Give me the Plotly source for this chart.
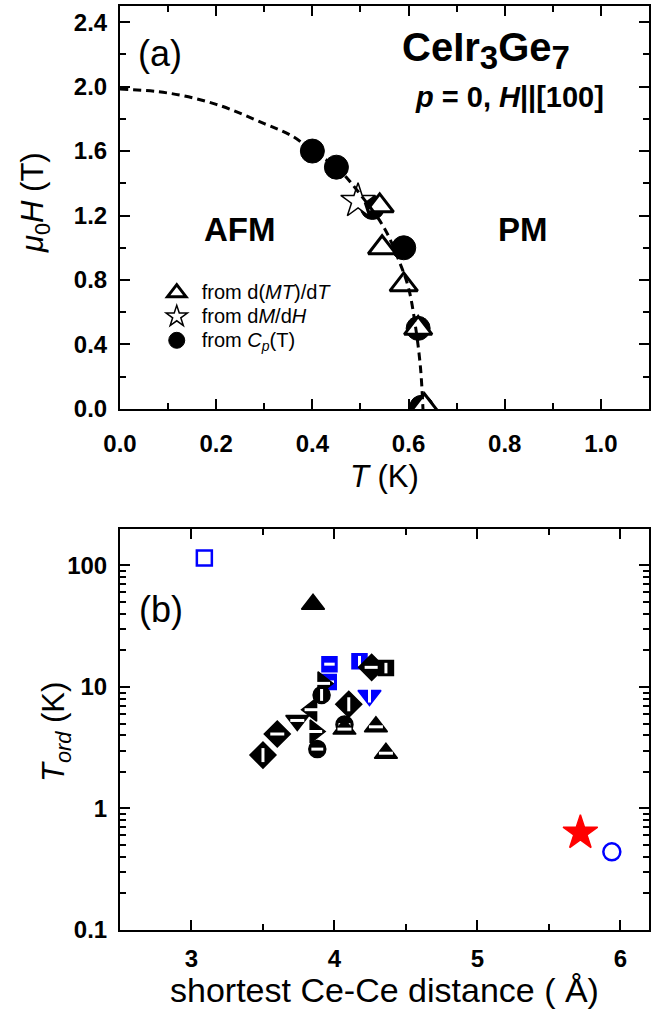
import plotly.graph_objects as go
from plotly.subplots import make_subplots

FONT = "Liberation Sans, Arial, sans-serif"

# ---------------- Panel (a) data: CeIr3Ge7 H-T phase diagram ----------------
boundary_T = [0.0, 0.1, 0.2, 0.3, 0.36, 0.40, 0.45, 0.50, 0.55, 0.58, 0.60, 0.615, 0.625, 0.63]
boundary_H = [1.985, 1.96, 1.89, 1.77, 1.69, 1.60, 1.50, 1.33, 1.12, 0.92, 0.75, 0.50, 0.25, 0.0]

dMT_T = [0.54, 0.545, 0.59, 0.62, 0.633]
dMT_H = [1.26, 1.00, 0.77, 0.50, 0.02]

dMdH_T = [0.495]
dMdH_H = [1.29]

cp_T = [0.40, 0.45, 0.525, 0.59, 0.62, 0.627]
cp_H = [1.60, 1.50, 1.25, 1.00, 0.50, 0.01]

# ---------------- Panel (b) data: T_ord vs shortest Ce-Ce distance ----------------
ce_dist = [3.09, 3.85, 3.965, 3.96, 4.175, 4.26, 4.36, 3.92, 3.91, 4.245, 4.10, 3.84,
           3.74, 3.865, 4.07, 4.07, 4.29, 4.36, 3.88, 3.60, 3.50, 5.72, 5.94]
ce_tord = [115, 48, 15.4, 11.0, 16.3, 14.5, 14.3, 10.7, 8.6, 8.5, 7.2, 6.5,
           5.3, 4.3, 4.9, 4.5, 4.7, 2.85, 3.08, 4.1, 2.75, 0.63, 0.44]

# styles for panel (b) markers (symbol, colour, fill type)
b_symbols = ["square", "triangle-up", "square", "square", "square", "diamond", "square",
             "triangle-right", "circle", "triangle-down", "diamond", "triangle-left",
             "triangle-down", "triangle-right", "circle", "triangle-up", "triangle-up",
             "triangle-up", "circle", "diamond", "diamond", "star", "circle"]
b_colors = ["blue", "black", "blue", "blue", "blue", "black", "black",
            "black", "black", "blue", "black", "black",
            "black", "black", "black", "black", "black",
            "black", "black", "black", "black", "red", "blue"]
b_fill = ["open", "filled", "half-h", "half-h", "half-v", "half-h", "half-v",
          "half-h", "half-v", "half-v", "half-v", "half-h",
          "half-h", "half-h", "half-h", "half-h", "half-h",
          "half-h", "half-h", "half-h", "half-v", "filled", "open"]
b_sizes = {"square": 15, "triangle-up": 20, "triangle-down": 20, "triangle-left": 20,
           "triangle-right": 20, "diamond": 20, "circle": 17, "star": 26}
COLMAP = {"blue": "#0000FF", "black": "#000000", "red": "#FF0000"}

fig = make_subplots(rows=2, cols=1)


def legend_text(s):
    return "<span style='font-size:20px'>" + s + "</span>"


# Panel (a) traces
fig.add_trace(go.Scatter(x=cp_T, y=cp_H, mode="markers",
                         marker=dict(symbol="circle", size=24, color="black",
                                     line=dict(color="black", width=1)),
                         name=legend_text("from <i>C</i><sub><i>p</i></sub>(T)"),
                         legendrank=3), row=1, col=1)
fig.add_trace(go.Scatter(x=dMT_T, y=dMT_H, mode="markers",
                         marker=dict(symbol="triangle-up", size=24, color="white",
                                     line=dict(color="black", width=3)),
                         name=legend_text("from d(<i>MT</i>)/d<i>T</i>"), legendrank=1), row=1, col=1)
fig.add_trace(go.Scatter(x=dMdH_T, y=dMdH_H, mode="markers",
                         marker=dict(symbol="star", size=26, color="white",
                                     line=dict(color="black", width=1.5)),
                         name=legend_text("from d<i>M</i>/d<i>H</i>"), legendrank=2), row=1, col=1)
fig.add_trace(go.Scatter(x=boundary_T, y=boundary_H, mode="lines", line_shape="spline",
                         line=dict(color="black", width=3, dash="8px,5px"),
                         showlegend=False, hoverinfo="skip"), row=1, col=1)

# Panel (b) traces
for xv, yv, sym, col, fill in zip(ce_dist, ce_tord, b_symbols, b_colors, b_fill):
    c = COLMAP[col]
    sz = b_sizes[sym]
    if fill == "open":
        fig.add_trace(go.Scatter(x=[xv], y=[yv], mode="markers", showlegend=False,
                                 marker=dict(symbol=sym + "-open", size=sz, color=c,
                                             line=dict(color=c, width=2.5))), row=2, col=1)
    else:
        fig.add_trace(go.Scatter(x=[xv], y=[yv], mode="markers", showlegend=False,
                                 marker=dict(symbol=sym, size=sz, color=c,
                                             line=dict(color=c, width=1.5))), row=2, col=1)
        if fill.startswith("half"):
            stripe = "line-ew" if fill == "half-h" else "line-ns"
            fig.add_trace(go.Scatter(x=[xv], y=[yv], mode="markers", showlegend=False,
                                     hoverinfo="skip",
                                     marker=dict(symbol=stripe, size=sz * 0.5,
                                                 line=dict(color="white", width=3))),
                          row=2, col=1)

tickfont = dict(family=FONT, size=24, color="black", weight="bold")
axis_common = dict(showline=True, linewidth=2, linecolor="black", mirror="allticks",
                   ticks="inside", ticklen=10, tickwidth=2, tickcolor="black",
                   showgrid=False, zeroline=False, tickfont=tickfont, automargin=False)
minor_common = dict(ticks="inside", ticklen=6, tickwidth=2, tickcolor="black")

fig.update_layout(
    width=660, height=1017,
    margin=dict(l=120, r=11, t=6, b=87),
    plot_bgcolor="white", paper_bgcolor="white",
    font=dict(family=FONT, color="black"),
    showlegend=True,
    legend=dict(x=0.06, y=0.708, xanchor="left", yanchor="top", itemwidth=40,
                bgcolor="rgba(0,0,0,0)", font=dict(family=FONT, size=16, color="black"),
                tracegroupgap=0, itemsizing="trace"),
    xaxis=dict(domain=[0, 1], range=[0, 1.1], tick0=0, dtick=0.2, tickformat=".1f",
               minor=dict(dtick=0.1, **minor_common),
               ticklabelstandoff=12, **axis_common),
    yaxis=dict(domain=[0.5639, 1.0], range=[0, 2.5], tick0=0, dtick=0.4, tickformat=".1f",
               minor=dict(dtick=0.2, **minor_common),
               ticklabelstandoff=6, **axis_common),
    xaxis2=dict(domain=[0, 1], range=[2.5, 6.2], tick0=3, dtick=1,
                minor=dict(dtick=0.5, **minor_common),
                ticklabelstandoff=6, **axis_common),
    yaxis2=dict(domain=[0, 0.434], type="log", range=[-1, 2.3],
                tickvals=[0.1, 1, 10, 100], ticktext=["0.1", "1", "10", "100"],
                minor=dict(tickvals=[m * 10 ** e for e in (-1, 0, 1, 2) for m in range(2, 10)],
                           **minor_common),
                ticklabelstandoff=6, **axis_common),
)

ann = [
    # axis titles
    dict(text="<i>T</i> (K)", x=0.5, y=0.4903, size=31),
    dict(text="<i>μ</i><sub>0</sub><i>H</i> (T)", x=-0.1607, y=0.7879, size=31, textangle=-90),
    dict(text="shortest Ce-Ce distance ( Å)", x=0.5, y=-0.0649, size=34),
    dict(text="<i>T</i><sub><i>ord</i></sub> (K)", x=-0.121, y=0.2143, size=31, textangle=-90),
    # panel labels
    dict(text="(a)", x=0.0756, y=0.9481, size=36),
    dict(text="(b)", x=0.0775, y=0.3474, size=36),
    dict(text="<b>CeIr<sub><span style='font-size:33px'>3</span></sub>Ge"
              "<sub><span style='font-size:33px'>7</span></sub></b>",
         x=0.6919, y=0.9515, size=40),
    dict(text="<b><i>p</i> = 0, <i>H</i>||[100]</b>", x=0.7372, y=0.9015, size=29),
    dict(text="<b>AFM</b>", x=0.2268, y=0.7576, size=33),
    dict(text="<b>PM</b>", x=0.7618, y=0.7576, size=33),
]
for a in ann:
    size = a.pop("size")
    fig.add_annotation(xref="paper", yref="paper", showarrow=False,
                       xanchor="center", yanchor="middle",
                       font=dict(family=FONT, color="black", size=size), **a)

fig.write_html("out.html", config={"displayModeBar": False},
               post_script="document.body.style.margin='0px';")
